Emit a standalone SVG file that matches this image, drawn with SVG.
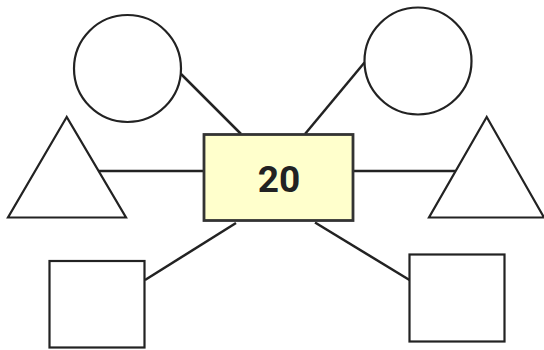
<svg xmlns="http://www.w3.org/2000/svg" width="544" height="350" viewBox="0 0 544 350">
<style>
.s{fill:#fff;stroke:#222;stroke-width:2.2}
.c{stroke:#222;stroke-width:2.5;fill:none}
.b{fill:#ffffcc;stroke:#333;stroke-width:2.8}
.t{font-family:Roboto,"Liberation Sans",sans-serif;font-weight:bold;font-size:37px;fill:#222}
</style>
<rect width="544" height="350" fill="#fff"/>
<g id="connectors">
<line class="c" x1="181" y1="74" x2="241" y2="134"/>
<line class="c" x1="364.5" y1="62.5" x2="305" y2="134"/>
<line class="c" x1="99" y1="171" x2="204" y2="171"/>
<line class="c" x1="353" y1="171" x2="455" y2="171"/>
<line class="c" x1="236" y1="223" x2="145" y2="280"/>
<line class="c" x1="315" y1="222.5" x2="409.5" y2="280"/>
</g>
<g id="circle-left"><circle class="s" cx="127.5" cy="68.5" r="53.5"/></g>
<g id="circle-right"><circle class="s" cx="418" cy="61" r="53.5"/></g>
<g id="triangle-left"><polygon class="s" points="66.7,117 8,217.5 126,217.5"/></g>
<g id="triangle-right"><polygon class="s" points="486.7,117 429,217.5 544,217.5"/></g>
<g id="square-left"><rect class="s" x="49.5" y="261" width="95" height="86.5"/></g>
<g id="square-right"><rect class="s" x="409.5" y="254.5" width="95" height="87"/></g>
<g id="center"><rect class="b" x="204" y="134.5" width="149" height="86"/><text class="t" x="279" y="191.5" text-anchor="middle">20</text></g>
</svg>
